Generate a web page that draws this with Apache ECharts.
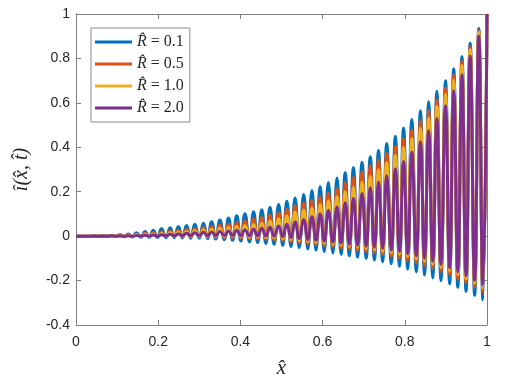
<!DOCTYPE html>
<html lang="en">
<head>
    <meta charset="UTF-8" />
    <title>i(x,t)</title>
    <script src="https://cdn.jsdelivr.net/npm/echarts@6.0.0/dist/echarts.min.js"></script>
</head>
<body style="margin: 0">
    <div id="main" style="width: 507px; height: 388px"></div>
    <script>
        // x positions of the crests and of the troughs
        var peakX = [0, 0.026, 0.046, 0.066, 0.087, 0.107, 0.127, 0.147, 0.168, 0.188,
            0.208, 0.229, 0.249, 0.269, 0.289, 0.310, 0.330, 0.350, 0.371, 0.391,
            0.411, 0.432, 0.452, 0.472, 0.493, 0.513, 0.533, 0.554, 0.574, 0.594,
            0.614, 0.635, 0.655, 0.675, 0.696, 0.716, 0.736, 0.756, 0.777, 0.797,
            0.817, 0.838, 0.858, 0.878, 0.899, 0.919, 0.939, 0.959, 0.980, 1.000];
        var troughX = [0.016, 0.036, 0.056, 0.076, 0.097, 0.117, 0.137, 0.158, 0.178, 0.198,
            0.219, 0.239, 0.259, 0.279, 0.300, 0.320, 0.340, 0.361, 0.381, 0.401,
            0.422, 0.442, 0.462, 0.482, 0.503, 0.523, 0.543, 0.564, 0.584, 0.604,
            0.625, 0.645, 0.665, 0.685, 0.706, 0.726, 0.746, 0.767, 0.787, 0.807,
            0.828, 0.848, 0.868, 0.888, 0.909, 0.929, 0.949, 0.970, 0.990];

        // R = 0.1
        var peaksR01 = [0, 0, 0.001, 0.002, 0.003, 0.006, 0.010, 0.015, 0.021, 0.027,
            0.033, 0.038, 0.043, 0.048, 0.053, 0.058, 0.065, 0.073, 0.082, 0.092,
            0.101, 0.110, 0.119, 0.130, 0.143, 0.157, 0.172, 0.188, 0.205, 0.223,
            0.241, 0.262, 0.285, 0.308, 0.332, 0.357, 0.386, 0.417, 0.450, 0.487,
            0.525, 0.565, 0.605, 0.652, 0.700, 0.752, 0.808, 0.868, 0.935, 1.0];
        var troughsR01 = [0, 0, -0.001, -0.001, -0.002, -0.003, -0.004, -0.005, -0.005, -0.006,
            -0.007, -0.007, -0.008, -0.009, -0.010, -0.011, -0.013, -0.016, -0.019, -0.022,
            -0.026, -0.029, -0.033, -0.037, -0.042, -0.047, -0.052, -0.058, -0.064, -0.070,
            -0.076, -0.082, -0.088, -0.094, -0.100, -0.107, -0.115, -0.124, -0.135, -0.148,
            -0.161, -0.175, -0.188, -0.201, -0.215, -0.230, -0.248, -0.266, -0.287];

        // R = 0.5
        var peaksR05 = [0, 0, 0.001, 0.001, 0.002, 0.004, 0.006, 0.009, 0.013, 0.016,
            0.020, 0.023, 0.027, 0.031, 0.034, 0.038, 0.043, 0.050, 0.055, 0.062,
            0.068, 0.076, 0.084, 0.094, 0.106, 0.121, 0.137, 0.148, 0.160, 0.176,
            0.194, 0.216, 0.240, 0.265, 0.290, 0.318, 0.343, 0.374, 0.404, 0.438,
            0.478, 0.522, 0.566, 0.615, 0.667, 0.725, 0.786, 0.853, 0.926, 1.0];
        var troughsR05 = [0, 0, 0, 0, -0.001, -0.001, -0.002, -0.002, -0.002, -0.003,
            -0.002, -0.002, -0.003, -0.003, -0.003, -0.004, -0.005, -0.006, -0.007, -0.009,
            -0.011, -0.012, -0.014, -0.017, -0.021, -0.025, -0.029, -0.034, -0.039, -0.044,
            -0.049, -0.054, -0.059, -0.065, -0.070, -0.076, -0.083, -0.090, -0.098, -0.110,
            -0.121, -0.133, -0.146, -0.160, -0.175, -0.192, -0.210, -0.229, -0.250];

        // R = 1.0
        var peaksR10 = [0, 0, 0, 0, 0.001, 0.002, 0.004, 0.006, 0.008, 0.010,
            0.012, 0.015, 0.018, 0.021, 0.024, 0.028, 0.031, 0.035, 0.039, 0.044,
            0.048, 0.052, 0.058, 0.067, 0.078, 0.091, 0.107, 0.116, 0.127, 0.142,
            0.159, 0.178, 0.200, 0.220, 0.244, 0.268, 0.298, 0.330, 0.363, 0.399,
            0.440, 0.485, 0.532, 0.585, 0.639, 0.702, 0.768, 0.839, 0.918, 1.0];
        var troughsR10 = [0, 0, 0, 0, 0, -0.001, -0.001, -0.001, -0.001, -0.001,
            0, 0, 0, 0, 0, -0.001, -0.001, -0.002, -0.002, -0.003,
            -0.004, -0.004, -0.006, -0.007, -0.011, -0.015, -0.019, -0.024, -0.028, -0.032,
            -0.037, -0.041, -0.046, -0.052, -0.057, -0.062, -0.068, -0.074, -0.081, -0.092,
            -0.103, -0.114, -0.127, -0.142, -0.157, -0.174, -0.192, -0.212, -0.233];

        // R = 2.0
        var peaksR20 = [0, 0, 0, 0, 0.001, 0.001, 0.002, 0.003, 0.004, 0.005,
            0.006, 0.008, 0.010, 0.013, 0.015, 0.017, 0.019, 0.021, 0.023, 0.026,
            0.028, 0.031, 0.035, 0.040, 0.046, 0.054, 0.064, 0.074, 0.087, 0.100,
            0.115, 0.131, 0.150, 0.169, 0.192, 0.218, 0.244, 0.272, 0.302, 0.335,
            0.378, 0.425, 0.475, 0.530, 0.587, 0.655, 0.727, 0.810, 0.900, 1.0];
        var troughsR20 = [0, 0, 0, 0, 0, 0, 0, 0, 0, 0,
            0.002, 0.002, 0.002, 0.002, 0.002, 0.002, 0.002, 0.002, 0.002, 0.002,
            0.002, 0.002, 0.001, 0, -0.003, -0.007, -0.011, -0.015, -0.019, -0.023,
            -0.027, -0.031, -0.036, -0.041, -0.046, -0.051, -0.056, -0.062, -0.068, -0.078,
            -0.088, -0.099, -0.112, -0.127, -0.143, -0.160, -0.178, -0.198, -0.220];

        var rLabels = ["0.1", "0.5", "1.0", "2.0"];
        var colors = ["#0072BD", "#D95319", "#EDB120", "#7E2F8E"];
        var xTicks = [0, 1, 0.2];
        var yTicks = [-0.4, 1, 0.2];

        function wave(peaks, troughs) {
            var out = [];
            for (var i = 0; i < peakX.length; i++) {
                out.push([peakX[i], peaks[i]]);
                if (i < troughX.length) out.push([troughX[i], troughs[i]]);
            }
            return out;
        }

        var allData = [
            wave(peaksR01, troughsR01),
            wave(peaksR05, troughsR05),
            wave(peaksR10, troughsR10),
            wave(peaksR20, troughsR20),
        ];

        var mathFont = "Liberation Serif";
        var lineCol = "#808080";
        var textCol = "#262626";

        function axisBase(extra) {
            var a = {
                type: "value",
                axisLine: { show: true, onZero: false, lineStyle: { color: lineCol, width: 1 } },
                axisTick: { show: true, inside: true, length: 5, lineStyle: { color: lineCol } },
                splitLine: { show: false },
            };
            return Object.assign(a, extra);
        }

        var mCharts = echarts.init(document.getElementById("main"));
        var option = {
            animation: false,
            color: colors,
            grid: { left: 76, right: 20, top: 14, bottom: 63 },
            xAxis: [
                axisBase({
                    position: "bottom", min: xTicks[0], max: xTicks[1], interval: xTicks[2],
                    axisLabel: { color: textCol, fontSize: 14, fontFamily: "Liberation Sans", margin: 10 },
                    name: "x\u0302", nameLocation: "middle", nameGap: 33,
                    nameTextStyle: { fontFamily: mathFont, fontStyle: "italic", fontSize: 21, color: textCol },
                }),
                axisBase({
                    position: "top", min: xTicks[0], max: xTicks[1], interval: xTicks[2],
                    axisLabel: { show: false },
                }),
            ],
            yAxis: [
                axisBase({
                    position: "left", min: yTicks[0], max: yTicks[1], interval: yTicks[2],
                    axisLabel: { color: textCol, fontSize: 14, fontFamily: "Liberation Sans", margin: 6 },
                    name: "\u00ee(x\u0302, t\u0302)", nameLocation: "middle", nameGap: 44, nameRotate: 90,
                    nameTextStyle: { fontFamily: mathFont, fontStyle: "italic", fontSize: 20, color: textCol },
                }),
                axisBase({
                    position: "right", min: yTicks[0], max: yTicks[1], interval: yTicks[2],
                    axisLabel: { show: false },
                }),
            ],
            legend: {
                orient: "vertical",
                left: 91,
                top: 28,
                padding: [6, 6, 6, 4],
                itemGap: 6,
                itemWidth: 37,
                itemHeight: 3,
                icon: "path://M0,0 L37,0 L37,3 L0,3 Z",
                backgroundColor: "#fff",
                borderColor: "#8c8c8c",
                borderWidth: 1,
                borderRadius: 0,
                formatter: function (name) {
                    return "{i|R\u0302} = " + name.split("= ")[1];
                },
                textStyle: {
                    fontFamily: mathFont, fontSize: 16, lineHeight: 15, color: textCol,
                    rich: { i: { fontFamily: mathFont, fontStyle: "italic", fontSize: 16, lineHeight: 15, color: textCol } },
                },
            },
            series: allData.map(function (d, k) {
                return {
                    type: "line",
                    name: "R\u0302 = " + rLabels[k],
                    data: d,
                    symbol: "none",
                    smooth: 0.5,
                    lineStyle: { width: 3, color: colors[k] },
                };
            }),
        };
        mCharts.setOption(option);
    </script>
</body>
</html>
